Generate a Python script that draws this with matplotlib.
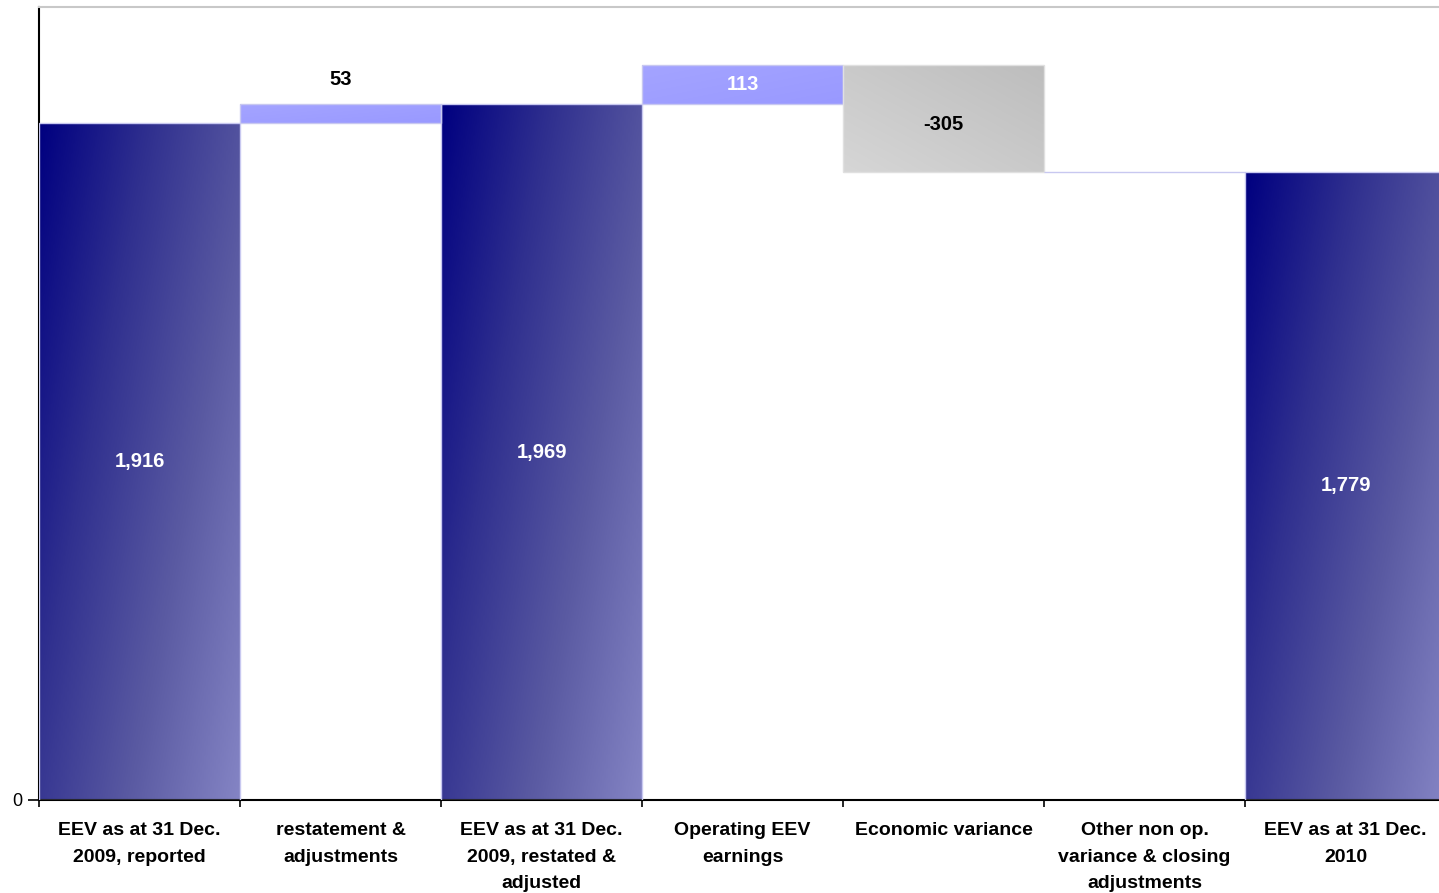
import matplotlib.pyplot as plt
import numpy as np
from matplotlib.colors import LinearSegmentedColormap

plt.rcParams['font.family'] = ['Liberation Sans', 'DejaVu Sans']

categories = ['EEV as at 31 Dec.\n2009, reported',
              'restatement &\nadjustments',
              'EEV as at 31 Dec.\n2009, restated &\nadjusted',
              'Operating EEV\nearnings',
              'Economic variance',
              'Other non op.\nvariance & closing\nadjustments',
              'EEV as at 31 Dec.\n2010']
values = [1916, 53, 1969, 113, -305, 2, 1779]
kinds = ['total', 'delta', 'total', 'delta', 'delta', 'delta', 'total']
labels = ['1,916', '53', '1,969', '113', '-305', '', '1,779']

# colour maps for the gradient fills
total_cmap = LinearSegmentedColormap.from_list('tot', ['#000080', '#30308f', '#5a5aa2', '#8484c4'])
pos_cmap = LinearSegmentedColormap.from_list('pos', ['#a4a4ff', '#9999ff'])
neg_cmap = LinearSegmentedColormap.from_list('neg', ['#bdbdbd', '#d6d6d6'])

# running bottoms for the waterfall
bottoms = []
heights = []
run = 0
for v, k in zip(values, kinds):
    if k == 'total':
        bottoms.append(0)
        heights.append(v)
        run = v
    else:
        if v >= 0:
            bottoms.append(run)
        else:
            bottoms.append(run + v)
        heights.append(abs(v))
        run += v

fig = plt.figure(figsize=(14.39, 8.93), dpi=100)
ax = fig.add_axes([39 / 1439, 93 / 893, 1407 / 1439, 793 / 893])

x = np.arange(len(values))
bars = ax.bar(x, heights, bottom=bottoms, width=1.0, facecolor='none', edgecolor='none', zorder=2)

# diagonal gradient: dark at top-left, light at bottom-right
gx, gy = np.meshgrid(np.linspace(0, 1, 100), np.linspace(0, 1, 200))
grad = 0.6 * gx + 0.4 * gy  # row 0 = top when origin='upper'

for i, b in enumerate(bars):
    x0, y0 = b.get_x(), b.get_y()
    x1, y1 = x0 + b.get_width(), y0 + b.get_height()
    if kinds[i] == 'total':
        cm, g = total_cmap, grad
    elif values[i] >= 0:
        cm, g = pos_cmap, (gx + gy) / 2
    else:
        cm, g = neg_cmap, ((1 - gx) + gy) / 2
    im = ax.imshow(g, cmap=cm, extent=(x0, x1, y0, y1), aspect='auto',
                   origin='upper', zorder=1, vmin=0, vmax=1)
    im.set_clip_path(b)
    edge = '#c8c8f0' if kinds[i] == 'total' or values[i] >= 0 else '#e0e0e0'
    ax.add_patch(plt.Rectangle((x0, y0), x1 - x0, y1 - y0, fill=False,
                               edgecolor=edge, linewidth=1, zorder=3))

# value labels
for i, b in enumerate(bars):
    if not labels[i]:
        continue
    cx = b.get_x() + b.get_width() / 2
    if kinds[i] == 'total':
        ax.text(cx, bottoms[i] + heights[i] / 2, labels[i], color='white',
                ha='center', va='center', fontsize=14.5, fontweight='bold', zorder=4)
    elif values[i] < 0:
        ax.text(cx, bottoms[i] + heights[i] / 2 - 18, labels[i], color='black',
                ha='center', va='center', fontsize=14.5, fontweight='bold', zorder=4)
    elif heights[i] < 80:
        ax.text(cx, bottoms[i] + heights[i] + 70, labels[i], color='black',
                ha='center', va='center', fontsize=14.5, fontweight='bold', zorder=4)
    else:
        ax.text(cx, bottoms[i] + heights[i] / 2, labels[i], color='white',
                ha='center', va='center', fontsize=14.5, fontweight='bold', zorder=4)

ax.set_xlim(-0.5, len(values) - 0.5)
ax.set_ylim(0, 2245)

# ticks between categories, labels at centres
ax.set_xticks(np.arange(len(values) + 1) - 0.5)
ax.set_xticklabels([])
ax.tick_params(axis='x', which='major', direction='out', length=5, width=1.2, color='black')
ax.set_xticks(x, minor=True)
ax.set_xticklabels(categories, minor=True, fontsize=14, fontweight='bold', linespacing=1.72, va='top')
ax.tick_params(axis='x', which='minor', length=0, pad=16)

ax.set_yticks([0])
ax.set_yticklabels(['0'], fontsize=13)
ax.tick_params(axis='y', direction='out', length=8, width=1.2, pad=4)

ax.spines['left'].set_color('black')
ax.spines['left'].set_linewidth(1.5)
ax.spines['bottom'].set_color('black')
ax.spines['bottom'].set_linewidth(1.5)
ax.spines['top'].set_color('#c8c8c8')
ax.spines['top'].set_linewidth(1.5)
ax.spines['right'].set_visible(False)

fig.savefig('out.png', dpi=100)
